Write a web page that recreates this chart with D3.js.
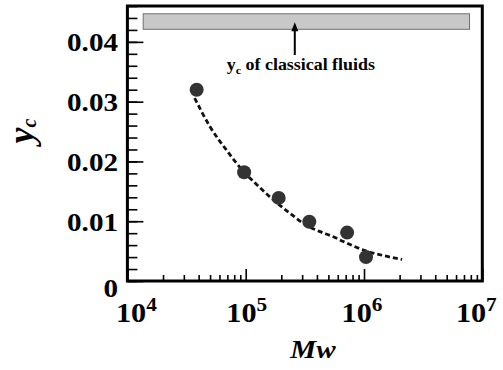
<!DOCTYPE html>
<html>
<head>
<meta charset="utf-8">
<script src="https://cdn.jsdelivr.net/npm/d3@7"></script>
<style>
  body { margin: 0; background: #fff; }
  text { font-family: "Liberation Serif", "Times New Roman", serif; font-weight: bold; fill: #000; }
</style>
</head>
<body>
<svg id="chart" width="503" height="370"></svg>
<script>
// measured points
const mw = [3.85e4, 9.7e4, 1.9e5, 3.45e5, 7.2e5, 1.04e6];
const yc = [0.0320, 0.0182, 0.0139, 0.0099, 0.0081, 0.0040];

// dashed fit curve
const fitMw = [3.7e4, 5e4, 7e4, 9.7e4, 1.2e5, 1.66e5, 2.45e5, 3.2e5, 4.2e5, 5.5e5, 6.7e5, 1.05e6, 1.5e6, 2.1e6];
const fitYc = [0.0306, 0.0258, 0.0217, 0.0182, 0.0164, 0.0138, 0.0111, 0.0094, 0.0083, 0.0074, 0.0066, 0.0050, 0.0042, 0.0036];

// band of classical fluids + arrow
const bandMw = [1.36e4, 7.8e6];
const bandYc = [0.0421, 0.0447];
const arrowMw = 2.6e5;
const arrowYc = [0.0378, 0.0433];
const noteYc = 0.0353;
const noteText = "of classical fluids";

const yTicks = [0, 0.01, 0.02, 0.03, 0.04];
const yTickLabels = ["0", "0.01", "0.02", "0.03", "0.04"];
const xExps = [4, 5, 6, 7];

const sx = 1.12; // text looks horizontally stretched in the original
const labelNudge = [9, 1, -2, -6];

const svg = d3.select("#chart");

const x = d3.scaleLog().domain([1e4, 1e7]).range([127.4, 482.3]);
const y = d3.scaleLinear().domain([0, 0.046]).range([281, 6]);

// grey band
svg.append("rect")
    .attr("x", x(bandMw[0]))
    .attr("y", y(bandYc[1]))
    .attr("width", x(bandMw[1]) - x(bandMw[0]))
    .attr("height", y(bandYc[0]) - y(bandYc[1]))
    .attr("fill", "#c8c8c8")
    .attr("stroke", "#707070")
    .attr("stroke-width", 1);

// arrow
const ax = x(arrowMw), tipY = y(arrowYc[1]);
svg.append("line")
    .attr("x1", ax).attr("x2", ax)
    .attr("y1", y(arrowYc[0])).attr("y2", tipY + 6)
    .attr("stroke", "#000").attr("stroke-width", 2);
svg.append("path")
    .attr("d", `M${ax},${tipY} L${ax - 3.5},${tipY + 9} L${ax + 3.5},${tipY + 9} Z`)
    .attr("fill", "#000");

const note = svg.append("text")
    .attr("transform", `translate(${ax + 6},${y(noteYc)}) scale(${sx},1)`)
    .attr("text-anchor", "middle")
    .style("font-size", "16px");
note.append("tspan").text("y");
note.append("tspan").attr("dy", 4).style("font-size", "11px").text("c");
note.append("tspan").attr("dy", -4).text(" " + noteText);

// ticks (inside)
const xMinor = x.ticks().filter(v => Math.abs(Math.log10(v) % 1) > 1e-6);
const yMinor = d3.range(0, 0.0461, 0.002);

function tickGroup(axis) {
  const g = svg.append("g").call(axis);
  g.select(".domain").remove();
  g.selectAll(".tick line").attr("stroke", "#000").attr("stroke-width", 1.6);
  g.selectAll(".tick text").remove();
  return g;
}
tickGroup(d3.axisBottom(x).tickValues(xMinor).tickSize(-6)).attr("transform", `translate(0,${y(0)})`);
tickGroup(d3.axisBottom(x).tickValues(xExps.map(e => 10 ** e)).tickSize(-12)).attr("transform", `translate(0,${y(0)})`);
tickGroup(d3.axisLeft(y).tickValues(yMinor).tickSize(-10)).attr("transform", `translate(${x(1e4)},0)`);
tickGroup(d3.axisLeft(y).tickValues(yTicks).tickSize(-16)).attr("transform", `translate(${x(1e4)},0)`);

// frame
svg.append("rect")
    .attr("x", x(1e4)).attr("y", y(0.046))
    .attr("width", x(1e7) - x(1e4))
    .attr("height", y(0) - y(0.046))
    .attr("fill", "none")
    .attr("stroke", "#000")
    .attr("stroke-width", 3);

// y tick labels
svg.selectAll(".ylab")
    .data(yTicks)
    .enter()
    .append("text")
    .attr("class", "ylab")
    .attr("text-anchor", "end")
    .attr("transform", d => `translate(118,${y(d) + (d === 0 ? 16 : 9.5)}) scale(${sx},1)`)
    .style("font-size", "26px")
    .text((d, i) => yTickLabels[i]);

// x tick labels 10^n
const xl = svg.selectAll(".xlab")
    .data(xExps)
    .enter()
    .append("text")
    .attr("class", "xlab")
    .attr("text-anchor", "middle")
    .attr("transform", (d, i) => `translate(${x(10 ** d) + labelNudge[i]},322) scale(${sx},1)`)
    .style("font-size", "27px");
xl.append("tspan").text("10");
xl.append("tspan").attr("dy", -11).style("font-size", "19px").text(d => d);

// fit curve
const line = d3.line()
    .x(d => x(d[0]))
    .y(d => y(d[1]))
    .curve(d3.curveMonotoneX);
svg.append("path")
    .datum(fitMw.map((m, i) => [m, fitYc[i]]))
    .attr("d", line)
    .attr("fill", "none")
    .attr("stroke", "#111")
    .attr("stroke-width", 2.8)
    .attr("stroke-dasharray", "5,3");

// points
svg.selectAll(".pt")
    .data(mw.map((m, i) => [m, yc[i]]))
    .enter()
    .append("circle")
    .attr("class", "pt")
    .attr("cx", d => x(d[0]))
    .attr("cy", d => y(d[1]))
    .attr("r", 7)
    .attr("fill", "#333");

// axis titles
svg.append("text")
    .attr("transform", `translate(313,358) scale(${sx},1)`)
    .attr("text-anchor", "middle")
    .style("font-size", "26px")
    .style("font-style", "italic")
    .text("Mw");

const yt = svg.append("text")
    .attr("transform", "translate(33,131) rotate(-90)")
    .attr("text-anchor", "middle")
    .style("font-size", "36px")
    .style("font-style", "italic");
yt.append("tspan").text("y");
yt.append("tspan").attr("dy", 3).style("font-size", "20px").text("c");
</script>
</body>
</html>
